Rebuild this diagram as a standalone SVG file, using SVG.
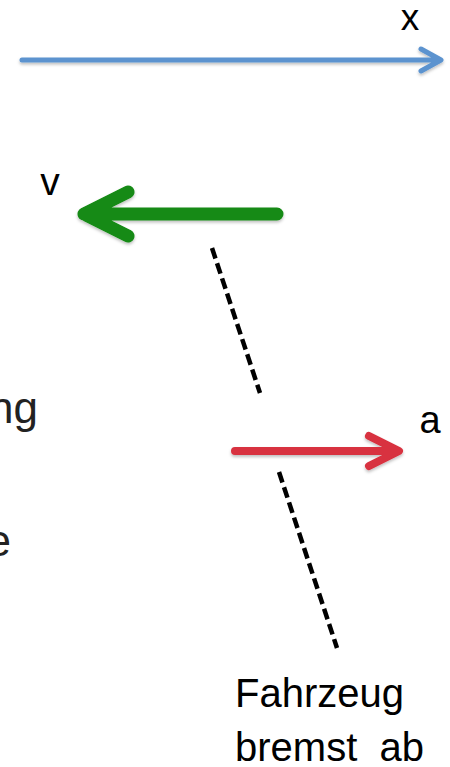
<svg xmlns="http://www.w3.org/2000/svg" width="450" height="767" viewBox="0 0 450 767">
<defs>
<style>
.t{font-family:"Liberation Sans",Arial,sans-serif;fill:#000}
.g{font-family:"Liberation Sans",Arial,sans-serif;fill:#222}
.d{stroke:#000;stroke-width:4.5;stroke-dasharray:11 5;fill:none}
.ar{fill:none;stroke-linecap:round;stroke-linejoin:round}
</style>
<filter id="sh" x="-10%" y="-50%" width="120%" height="200%">
<feDropShadow dx="0" dy="2" stdDeviation="1.5" flood-color="#000" flood-opacity="0.25"/>
</filter>
</defs>
<rect width="450" height="767" fill="#fff"/>
<g id="partial-text">
<text class="g" x="38" y="423" font-size="44" text-anchor="end">ng</text>
<text class="g" x="11" y="556" font-size="44" text-anchor="end">e</text>
</g>
<g id="connectors">
<line class="d" x1="212" y1="248" x2="260" y2="393"/>
<line class="d" x1="279" y1="472" x2="337" y2="648"/>
</g>
<g id="x-axis" filter="url(#sh)">
<path class="ar" d="M22 60 H440 M421 49 L441 60 L421 71" stroke="#5b93cf" stroke-width="5"/>
</g>
<text id="label-x" class="t" x="410" y="30" font-size="37" text-anchor="middle">x</text>
<g id="v-arrow" filter="url(#sh)">
<path class="ar" d="M277 214 H84 M128 192 L84 214 L128 236" stroke="#138a13" stroke-width="13"/>
</g>
<text id="label-v" class="t" x="50" y="195" font-size="39" text-anchor="middle">v</text>
<g id="a-arrow" filter="url(#sh)">
<path class="ar" d="M235 451 H398 M369 436 L399 451 L369 466" stroke="#d8303f" stroke-width="8"/>
</g>
<text id="label-a" class="t" x="430" y="433" font-size="38" text-anchor="middle">a</text>
<g id="caption">
<text class="t" x="235" y="707" font-size="40">Fahrzeug</text>
<text class="t" x="235" y="761" font-size="40" xml:space="preserve">bremst  ab</text>
</g>
</svg>
